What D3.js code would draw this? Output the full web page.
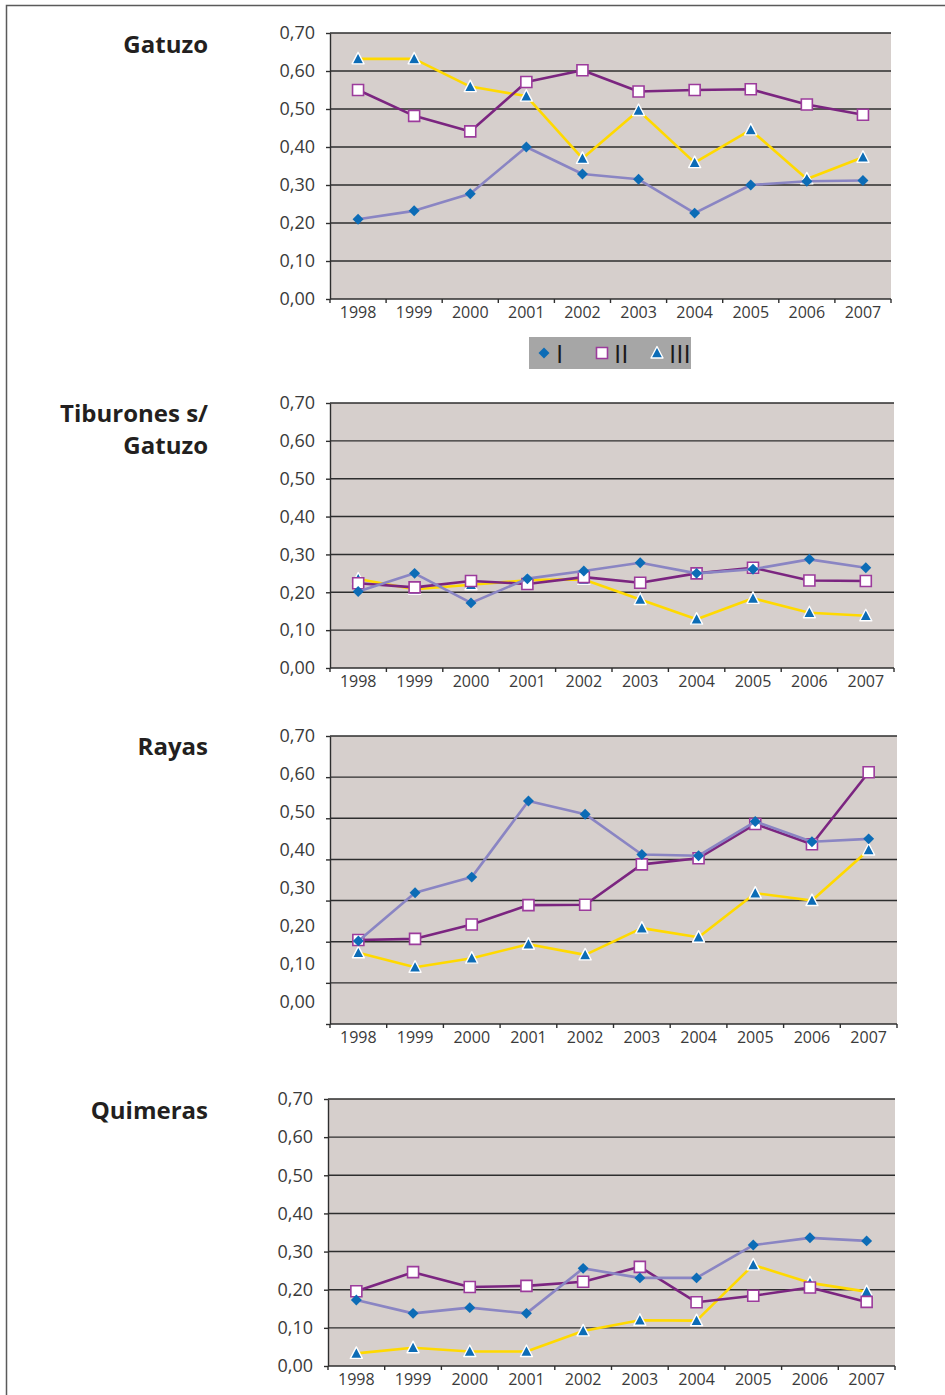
<!DOCTYPE html>
<html>
<head>
<meta charset="utf-8">
<script src="https://cdn.jsdelivr.net/npm/d3@7"></script>
<style>
	body { margin: 0; background: #fff; }
	text { font-family: "Open Sans", "Noto Sans", sans-serif; }
</style>
</head>
<body>
<div id="chartDiv"></div>
<script>
var years = [1998, 1999, 2000, 2001, 2002, 2003, 2004, 2005, 2006, 2007];
var yTicks = [0, 0.1, 0.2, 0.3, 0.4, 0.5, 0.6, 0.7];
var seriesNames = ["I", "II", "III"];

var gatuzoI   = [0.210, 0.232, 0.277, 0.400, 0.329, 0.315, 0.226, 0.300, 0.310, 0.312];
var gatuzoII  = [0.550, 0.482, 0.441, 0.571, 0.602, 0.546, 0.550, 0.552, 0.512, 0.485];
var gatuzoIII = [0.632, 0.632, 0.559, 0.534, 0.370, 0.496, 0.359, 0.445, 0.316, 0.373];

var tiburonesI   = [0.202, 0.250, 0.172, 0.236, 0.256, 0.278, 0.250, 0.261, 0.287, 0.265];
var tiburonesII  = [0.224, 0.213, 0.230, 0.222, 0.240, 0.225, 0.250, 0.265, 0.231, 0.230];
var tiburonesIII = [0.235, 0.208, 0.220, 0.232, 0.234, 0.181, 0.129, 0.184, 0.146, 0.138];

var rayasI   = [0.202, 0.319, 0.357, 0.542, 0.510, 0.412, 0.409, 0.492, 0.443, 0.450];
var rayasII  = [0.204, 0.207, 0.242, 0.289, 0.290, 0.388, 0.403, 0.486, 0.437, 0.612];
var rayasIII = [0.173, 0.138, 0.160, 0.194, 0.168, 0.233, 0.211, 0.318, 0.300, 0.423];

var quimerasI   = [0.173, 0.138, 0.153, 0.138, 0.256, 0.231, 0.231, 0.317, 0.336, 0.328];
var quimerasII  = [0.196, 0.246, 0.207, 0.210, 0.221, 0.260, 0.167, 0.184, 0.206, 0.168];
var quimerasIII = [0.033, 0.048, 0.038, 0.038, 0.092, 0.120, 0.119, 0.265, 0.218, 0.195];

;(function() {

	var width = 945;
	var height = 1395;

	var plotBg = "#d6cfcc";
	var gridColor = "#2e2e2e";
	var textColor = "#3a3a3a";
	var markerBlue = "#0c6cb6";
	var lineColors = ["#8a85c3", "#7b2580", "#ffd900"];

	var panels = [
		{ title: ["Gatuzo"], titleY: 53, series: [gatuzoI, gatuzoII, gatuzoIII],
			left: 330, right: 891, top: 33, bottom: 299, labelBottom: 299 },
		{ title: ["Tiburones s/", "Gatuzo"], titleY: 422, series: [tiburonesI, tiburonesII, tiburonesIII],
			left: 330, right: 894, top: 403, bottom: 668, labelBottom: 668 },
		{ title: ["Rayas"], titleY: 755, series: [rayasI, rayasII, rayasIII],
			left: 330, right: 897, top: 736, bottom: 1024, labelBottom: 1002 },
		{ title: ["Quimeras"], titleY: 1119, series: [quimerasI, quimerasII, quimerasIII],
			left: 328, right: 895, top: 1099, bottom: 1366, labelBottom: 1366 }
	];

	var locale = d3.formatLocale({ decimal: ",", thousands: ".", grouping: [3], currency: ["", "€"] });
	var fmt = locale.format(".2f");

	var svg;

	init();

	function init() {
		svg = d3.select("#chartDiv").append("svg")
			.attr("width", width)
			.attr("height", height);

		// page frame
		svg.append("path")
			.attr("d", "M6.5," + height + "V5.5H" + width)
			.attr("fill", "none")
			.attr("stroke", "#5a5a5a")
			.attr("stroke-width", 1.5);

		panels.forEach(drawPanel);
		drawLegend();
	}

	function marker(sel, k) {
		if (k === 0) {
			sel.append("path")
				.attr("d", d3.symbol(d3.symbolSquare, 60)())
				.attr("transform", "rotate(45)")
				.attr("fill", markerBlue);
		} else if (k === 1) {
			sel.append("path")
				.attr("d", d3.symbol(d3.symbolSquare, 121)())
				.attr("fill", "#fff")
				.attr("stroke", "#9c3b9c")
				.attr("stroke-width", 1.6);
		} else {
			sel.append("path")
				.attr("d", "M0,-6.5L6,5L-6,5Z")
				.attr("fill", markerBlue)
				.attr("stroke", "#fff")
				.attr("stroke-width", 1.4)
				.attr("stroke-linejoin", "round");
		}
	}

	function drawPanel(p) {
		var g = svg.append("g");

		var x = d3.scaleBand().domain(years).range([p.left, p.right]);
		var y = d3.scaleLinear().domain([0, 0.7]).range([p.bottom, p.top]);
		var yLabel = d3.scaleLinear().domain([0, 0.7]).range([p.labelBottom, p.top]);

		// title
		g.append("text")
			.attr("text-anchor", "end")
			.attr("font-size", "24px")
			.attr("font-weight", "bold")
			.attr("fill", "#231f20")
			.selectAll("tspan")
			.data(p.title).enter().append("tspan")
				.attr("x", 208)
				.attr("y", function(d, i) { return p.titleY + i * 32; })
				.text(function(d) { return d; });

		g.append("rect")
			.attr("x", p.left)
			.attr("y", p.top)
			.attr("width", p.right - p.left)
			.attr("height", p.bottom - p.top)
			.attr("fill", plotBg);

		// gridlines
		g.selectAll(".grid")
			.data(yTicks.slice(1)).enter().append("line")
				.attr("class", "grid")
				.attr("x1", p.left)
				.attr("x2", p.right)
				.attr("y1", function(d) { return y(d); })
				.attr("y2", function(d) { return y(d); })
				.attr("stroke", gridColor)
				.attr("stroke-width", 1.4);

		// y axis line + ticks
		g.append("g")
			.attr("transform", "translate(" + p.left + ",0)")
			.call(d3.axisLeft(y).tickValues(yTicks).tickSize(4).tickSizeOuter(0).tickFormat(""))
			.call(function(a) {
				a.selectAll("path, line").attr("stroke", gridColor).attr("stroke-width", 1.4);
			});

		// y labels
		g.append("g")
			.attr("transform", "translate(" + p.left + ",0)")
			.call(d3.axisLeft(yLabel).tickValues(yTicks).tickSize(0).tickPadding(15).tickFormat(fmt))
			.call(function(a) {
				a.select(".domain").remove();
				a.attr("font-size", "18px").attr("font-family", null);
				a.selectAll("text").attr("fill", textColor);
			});

		// x axis line and boundary ticks
		g.append("line")
			.attr("x1", p.left).attr("x2", p.right)
			.attr("y1", p.bottom).attr("y2", p.bottom)
			.attr("stroke", gridColor)
			.attr("stroke-width", 1.4);

		var bounds = years.map(function(d) { return x(d); }).concat([p.right]);
		g.selectAll(".xtick")
			.data(bounds).enter().append("line")
				.attr("class", "xtick")
				.attr("x1", function(d) { return d; })
				.attr("x2", function(d) { return d; })
				.attr("y1", p.bottom)
				.attr("y2", p.bottom + 4)
				.attr("stroke", gridColor)
				.attr("stroke-width", 1.4);

		g.append("g")
			.attr("transform", "translate(0," + p.bottom + ")")
			.call(d3.axisBottom(x).tickSize(0).tickPadding(8))
			.call(function(a) {
				a.select(".domain").remove();
				a.attr("font-size", "16px").attr("font-family", null);
				a.selectAll("text").attr("fill", textColor);
			});

		var line = d3.line()
			.x(function(d, i) { return x(years[i]) + x.bandwidth() / 2; })
			.y(function(d) { return y(d); });

		// series III drawn first, I ends on top
		[2, 1, 0].forEach(function(k) {
			var vals = p.series[k];
			g.append("path")
				.datum(vals)
				.attr("fill", "none")
				.attr("stroke", lineColors[k])
				.attr("stroke-width", 2.6)
				.attr("stroke-linejoin", "round")
				.attr("d", line);

			g.selectAll(".m" + k)
				.data(vals).enter().append("g")
					.attr("class", "m" + k)
					.attr("transform", function(d, i) {
						return "translate(" + (x(years[i]) + x.bandwidth() / 2) + "," + y(d) + ")";
					})
					.each(function() { marker(d3.select(this), k); });
		});
	}

	function drawLegend() {
		var lg = svg.append("g");
		lg.append("rect")
			.attr("x", 529).attr("y", 337)
			.attr("width", 162).attr("height", 32)
			.attr("fill", "#a6a6a6");

		var itemX = [544, 602, 657];
		seriesNames.forEach(function(name, k) {
			var it = lg.append("g").attr("transform", "translate(" + itemX[k] + ",353)");
			marker(it, k);
			it.append("text")
				.attr("x", 12)
				.attr("y", 9.5)
				.attr("font-size", "26px")
				.attr("fill", "#1a1a1a")
				.text(name);
		});
	}
})();
</script>
</body>
</html>
